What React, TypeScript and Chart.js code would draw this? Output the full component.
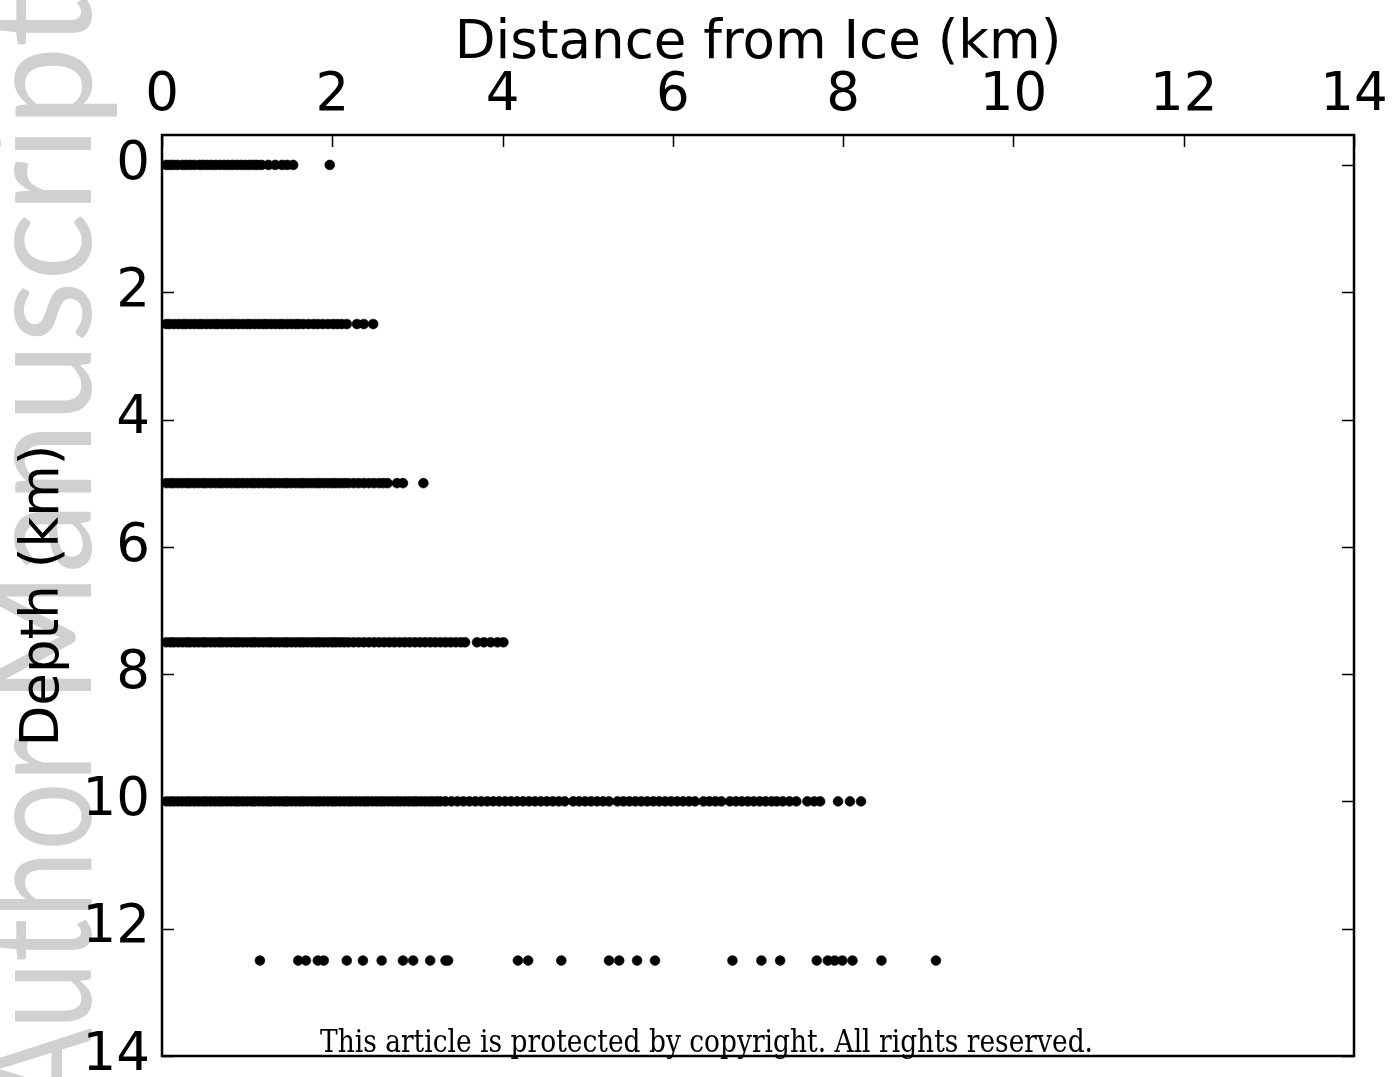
import { useEffect, useRef } from "react";
import { Chart, registerables } from "chart.js";

Chart.register(...registerables);

// Depth levels (km) at which distances were sampled
const depthLevels = [0, 2.5, 5, 7.5, 10, 12.5];

// Distance from ice (km) for each depth level
const distAt0 = [
  0.05, 0.09, 0.13, 0.18, 0.24, 0.28, 0.33, 0.38, 0.44, 0.48, 0.53, 0.58, 0.63, 0.68,
  0.73, 0.78, 0.83, 0.88, 0.93, 0.98, 1.03, 1.08, 1.12, 1.17, 1.25, 1.33, 1.41, 1.47,
  1.54, 1.97,
];
const distAt25 = [
  0.05, 0.09, 0.14, 0.19, 0.24, 0.28, 0.33, 0.38, 0.43, 0.47, 0.52, 0.57, 0.62, 0.66,
  0.71, 0.76, 0.81, 0.85, 0.9, 0.95, 1.0, 1.04, 1.09, 1.14, 1.19, 1.23, 1.28, 1.33,
  1.38, 1.42, 1.47, 1.52, 1.57, 1.61, 1.66, 1.72, 1.78, 1.83, 1.89, 1.95, 2.01, 2.06,
  2.11, 2.17, 2.29, 2.37, 2.48,
];
const distAt50 = [
  0.05, 0.1, 0.14, 0.19, 0.24, 0.29, 0.33, 0.38, 0.43, 0.48, 0.52, 0.57, 0.62, 0.67,
  0.71, 0.76, 0.81, 0.86, 0.9, 0.95, 1.0, 1.05, 1.09, 1.14, 1.19, 1.24, 1.28, 1.33,
  1.38, 1.43, 1.47, 1.52, 1.57, 1.62, 1.66, 1.71, 1.76, 1.81, 1.85, 1.9, 1.95, 2.0,
  2.04, 2.09, 2.14, 2.19, 2.25, 2.31, 2.37, 2.43, 2.49, 2.55, 2.6, 2.65, 2.76, 2.83,
  3.07,
];
const distAt75 = [
  0.05, 0.1, 0.14, 0.19, 0.24, 0.29, 0.33, 0.38, 0.43, 0.48, 0.52, 0.57, 0.62, 0.67,
  0.71, 0.76, 0.81, 0.86, 0.9, 0.95, 1.0, 1.05, 1.09, 1.14, 1.19, 1.24, 1.28, 1.33,
  1.38, 1.43, 1.47, 1.52, 1.57, 1.62, 1.66, 1.71, 1.76, 1.81, 1.85, 1.9, 1.95, 2.0,
  2.04, 2.09, 2.14, 2.19, 2.25, 2.31, 2.37, 2.43, 2.49, 2.55, 2.61, 2.67, 2.73, 2.79,
  2.85, 2.91, 2.97, 3.03, 3.09, 3.15, 3.21, 3.27, 3.33, 3.39, 3.45, 3.51, 3.56, 3.7,
  3.78, 3.86, 3.94, 4.01,
];
const distAt100 = [
  0.05, 0.1, 0.14, 0.19, 0.24, 0.29, 0.33, 0.38, 0.43, 0.48, 0.52, 0.57, 0.62, 0.67,
  0.71, 0.76, 0.81, 0.86, 0.9, 0.95, 1.0, 1.05, 1.09, 1.14, 1.19, 1.24, 1.28, 1.33,
  1.38, 1.43, 1.47, 1.52, 1.57, 1.62, 1.66, 1.71, 1.76, 1.81, 1.85, 1.9, 1.95, 2.0,
  2.04, 2.09, 2.14, 2.19, 2.23, 2.28, 2.33, 2.38, 2.42, 2.47, 2.52, 2.57, 2.61, 2.66,
  2.71, 2.76, 2.8, 2.85, 2.9, 2.95, 2.99, 3.04, 3.09, 3.14, 3.18, 3.23, 3.27, 3.33,
  3.4, 3.47, 3.54, 3.61, 3.68, 3.75, 3.82, 3.89, 3.96, 4.03, 4.1, 4.17, 4.24, 4.31,
  4.38, 4.45, 4.52, 4.59, 4.66, 4.73, 4.83, 4.9, 4.97, 5.04, 5.11, 5.18, 5.25, 5.35,
  5.42, 5.49, 5.56, 5.63, 5.7, 5.77, 5.84, 5.91, 5.98, 6.05, 6.12, 6.19, 6.26, 6.36,
  6.43, 6.5, 6.57, 6.67, 6.74, 6.81, 6.88, 6.95, 7.02, 7.09, 7.16, 7.22, 7.29, 7.37,
  7.45, 7.58, 7.66, 7.73, 7.94, 8.08, 8.21,
];
const distAt125 = [
  1.15, 1.6, 1.69, 1.83, 1.9, 2.17, 2.36, 2.58, 2.83, 2.95, 3.15, 3.33, 3.36, 4.18,
  4.3, 4.69, 5.25, 5.37, 5.58, 5.79, 6.7, 7.04, 7.26, 7.69, 7.82, 7.9, 7.99, 8.11,
  8.45, 9.09,
];
const distanceByDepth = [distAt0, distAt25, distAt50, distAt75, distAt100, distAt125];

const xTickValues = [0, 2, 4, 6, 8, 10, 12, 14];
const yTickValues = [0, 2, 4, 6, 8, 10, 12, 14];
const xAxisTitle = "Distance from Ice (km)";
const yAxisTitle = "Depth (km)";
const watermarkWords = ["Author", "Manuscript"];
const footerText = "This article is protected by copyright. All rights reserved.";

const SANS = "'DejaVu Sans'";

// Draws one vertical watermark word whose end sits at yEnd and which spans `length` px downward
function drawVerticalWord(ctx: CanvasRenderingContext2D, word: string, baselineX: number, yEnd: number, length: number) {
  const w = ctx.measureText(word).width;
  ctx.save();
  ctx.translate(baselineX, yEnd);
  ctx.rotate(-Math.PI / 2);
  ctx.scale(length / w, 1);
  ctx.textAlign = "right";
  ctx.textBaseline = "alphabetic";
  ctx.fillText(word, 0, 0);
  ctx.restore();
}

// Watermark behind the plot, boxed frame with inward ticks, and footer notice
const decorations = {
  id: "decorations",
  beforeDraw(chart: any) {
    const ctx = chart.ctx as CanvasRenderingContext2D;
    ctx.save();
    ctx.fillStyle = "#d0d0d0";
    ctx.font = "150px Lato";
    drawVerticalWord(ctx, watermarkWords[1], 91, -4, 708);
    drawVerticalWord(ctx, watermarkWords[0], 91, 738, 372);
    ctx.restore();
  },
  afterDatasetsDraw(chart: any) {
    const ctx = chart.ctx as CanvasRenderingContext2D;
    const { left, right, top, bottom } = chart.chartArea;
    const xs = chart.scales.x;
    const ys = chart.scales.y;
    const tick = 12;
    ctx.save();
    ctx.strokeStyle = "#000";
    ctx.lineWidth = 1.5;
    ctx.beginPath();
    xTickValues.forEach((v) => {
      const px = Math.round(xs.getPixelForValue(v)) + 0.5;
      ctx.moveTo(px, top);
      ctx.lineTo(px, top + tick);
    });
    yTickValues.forEach((v) => {
      const py = Math.round(ys.getPixelForValue(v)) + 0.5;
      ctx.moveTo(left, py);
      ctx.lineTo(left + tick, py);
      ctx.moveTo(right, py);
      ctx.lineTo(right - tick, py);
    });
    ctx.stroke();
    ctx.lineWidth = 2.5;
    ctx.strokeRect(left, top, right - left, bottom - top);
    ctx.restore();
  },
  afterDraw(chart: any) {
    const ctx = chart.ctx as CanvasRenderingContext2D;
    ctx.save();
    ctx.fillStyle = "#000";
    ctx.font = "32px 'DejaVu Serif'";
    const w = ctx.measureText(footerText).width;
    ctx.translate(320, 1052);
    ctx.scale(773 / w, 1);
    ctx.textAlign = "left";
    ctx.textBaseline = "alphabetic";
    ctx.fillText(footerText, 0, 0);
    ctx.restore();
  },
};

export default function App() {
  const canvasRef = useRef<HTMLCanvasElement | null>(null);

  useEffect(() => {
    const canvas = canvasRef.current;
    if (!canvas) return;

    const points = depthLevels.flatMap((depth, i) =>
      distanceByDepth[i].map((x) => ({ x, y: depth }))
    );

    const chart = new Chart(canvas, {
      type: "scatter",
      data: {
        datasets: [
          {
            data: points,
            backgroundColor: "#000",
            borderColor: "#000",
            borderWidth: 0.6,
            pointRadius: 4.9,
            pointHoverRadius: 4.9,
          },
        ],
      },
      options: {
        animation: false,
        responsive: false,
        devicePixelRatio: 1,
        layout: { padding: { left: 0, top: 0, right: 40, bottom: 21 } },
        plugins: {
          legend: { display: false },
          tooltip: { enabled: false },
        },
        events: [],
        scales: {
          x: {
            type: "linear",
            position: "top",
            min: 0,
            max: 14,
            afterBuildTicks: (s: any) => {
              s.ticks = xTickValues.map((v) => ({ value: v }));
            },
            afterFit: (s: any) => {
              s.height = 135;
              s.paddingLeft = 0;
              s.paddingRight = 0;
            },
            grid: { display: false, drawTicks: false },
            border: { display: false },
            ticks: {
              color: "#000",
              font: { family: SANS, size: 53 },
              padding: 7,
              maxRotation: 0,
              autoSkip: false,
              callback: (v: any) => String(v),
            },
            title: {
              display: true,
              text: xAxisTitle,
              color: "#000",
              font: { family: SANS, size: 53 },
              padding: { top: 12, bottom: 0 },
            },
          },
          y: {
            type: "linear",
            reverse: true,
            min: -0.47,
            max: 14,
            afterBuildTicks: (s: any) => {
              s.ticks = yTickValues.map((v) => ({ value: v }));
            },
            afterFit: (s: any) => {
              s.width = 162;
              s.paddingTop = 0;
              s.paddingBottom = 0;
            },
            grid: { display: false, drawTicks: false },
            border: { display: false },
            ticks: {
              color: "#000",
              font: { family: SANS, size: 53 },
              padding: 12,
              autoSkip: false,
              callback: (v: any) => String(v),
            },
            title: {
              display: true,
              text: yAxisTitle,
              color: "#000",
              font: { family: SANS, size: 53 },
              padding: { top: 12, bottom: 0 },
            },
          },
        },
      },
      plugins: [decorations],
    });

    return () => chart.destroy();
  }, []);

  return (
    <div style={{ position: "absolute", left: 0, top: 0, width: 1394, height: 1077, background: "#fff" }}>
      <canvas ref={canvasRef} width={1394} height={1077} style={{ width: 1394, height: 1077, display: "block" }} />
    </div>
  );
}
